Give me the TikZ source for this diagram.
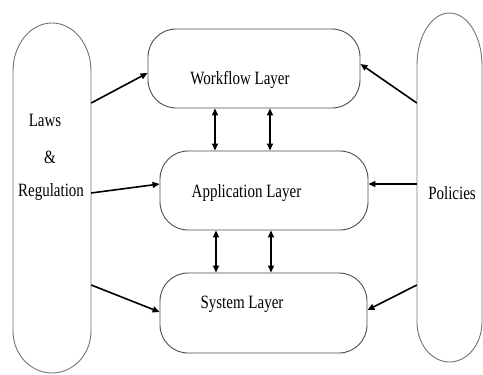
\documentclass[tikz,border=0pt]{standalone}
\usepackage{fontspec}
\setmainfont{Liberation Serif}
\usetikzlibrary{arrows.meta}
\begin{document}
\begin{tikzpicture}[x=1pt,y=-1pt,
  layer/.style={draw=black!70, line width=0.9pt, rounded corners=28pt, rectangle, inner sep=0pt},
  pillnode/.style={draw=none, rectangle, inner sep=0pt},
  pillline/.style={draw=black!55, line width=0.9pt},
  lbl/.style={font=\fontsize{15}{18}\selectfont, inner sep=0pt, text=black},
  arr/.style={line width=1.6pt, -{Triangle[length=7pt,width=6pt]}},
  darr/.style={line width=1.6pt, {Triangle[length=7pt,width=6pt]}-{Triangle[length=7pt,width=6pt]}}
]
\useasboundingbox (0,0) rectangle (483,375);

% side pills (anchor nodes)
\node[pillnode, minimum width=78pt, minimum height=350pt] (laws) at (52,198) {};
\node[pillnode, minimum width=65pt, minimum height=349pt] (pol) at (449.5,187.5) {};
\draw[pillline] (13,71) arc[start angle=180, end angle=360, x radius=39, y radius=48]
  -- (91,331) arc[start angle=0, end angle=180, x radius=39, y radius=42] -- cycle;
\draw[pillline] (417,65) arc[start angle=180, end angle=360, x radius=32.5, y radius=52]
  -- (482,322) arc[start angle=0, end angle=180, x radius=32.5, y radius=40] -- cycle;

% layer boxes
\node[layer, minimum width=212pt, minimum height=79pt] (wf) at (254,68.5) {};
\node[layer, minimum width=208pt, minimum height=79pt] (app) at (264,190.5) {};
\node[layer, minimum width=207pt, minimum height=80pt] (sys) at (263.5,313) {};

% texts
\node[lbl] (twf) at (240,80) {\scalebox{1}[1.25]{Workflow Layer}};
\node[lbl] (tapp) at (246.5,193) {\scalebox{1}[1.25]{Application Layer}};
\node[lbl] (tsys) at (242,304) {\scalebox{1}[1.25]{System Layer}};
\node[lbl] (tlaws) at (45,120) {\scalebox{1}[1.25]{Laws}};
\node[lbl] (tamp) at (50,157) {\scalebox{1}[1.25]{\&}};
\node[lbl] (treg) at (51,192) {\scalebox{1}[1.25]{Regulation}};
\node[lbl] (tpol) at (452,193) {\scalebox{1}[1.25]{Policies}};

% arrows from laws
\draw[arr] (laws.east |- 0,103) -- (wf.west |- 0,73);
\draw[arr] (laws.east |- 0,193) -- (app.west |- 0,184);
\draw[arr] (laws.east |- 0,285) -- (sys.west |- 0,312);
% arrows from policies
\draw[arr] (pol.west |- 0,103) -- (wf.east |- 0,64);
\draw[arr] (pol.west |- 0,184) -- (app.east |- 0,184);
\draw[arr] (pol.west |- 0,285) -- (sys.east |- 0,310);
% vertical double arrows
\draw[darr] (wf.south -| 215,0) -- (app.north -| 215,0);
\draw[darr] (wf.south -| 270,0) -- (app.north -| 270,0);
\draw[darr] (app.south -| 216,0) -- (sys.north -| 216,0);
\draw[darr] (app.south -| 271,0) -- (sys.north -| 271,0);
\end{tikzpicture}
\end{document}
